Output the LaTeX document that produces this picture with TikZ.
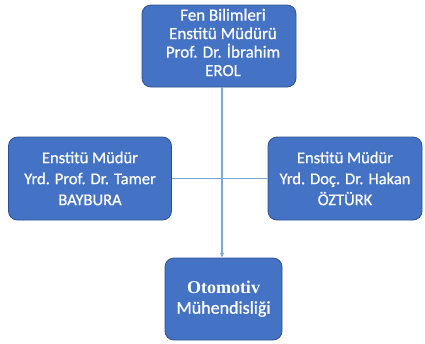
\documentclass[tikz,border=0pt]{standalone}
\usepackage{fontspec}
\setmainfont{Carlito}[FakeBold=0.7]
\newfontfamily\serifbold{Liberation Serif Bold}
\usetikzlibrary{arrows.meta}
\definecolor{boxfill}{HTML}{4472C4}
\definecolor{boxedge}{HTML}{2F528F}
\definecolor{linkcol}{HTML}{7FA7DA}
\tikzset{
  orgbox/.style={draw=boxedge, line width=0.8pt, fill=boxfill, rounded corners=9pt, text=white, align=center, inner sep=0pt},
  topfont/.style={font=\fontsize{17}{18.5}\selectfont},
  sidefont/.style={font=\fontsize{16.5}{21}\selectfont},
  botfont/.style={font=\fontsize{18}{20}\selectfont},
  link/.style={draw=linkcol, line width=1.2pt}
}
\begin{document}
\begin{tikzpicture}[x=1pt,y=-1pt]
\useasboundingbox (0,0) rectangle (425,343);
\node[orgbox, minimum width=154pt, minimum height=82pt] (top) at (219,46) {};
\node[topfont, align=center, text=white] (toptext) at (223,42.5) {Fen Bilimleri\\Enstitü Müdürü\\Prof. Dr. İbrahim\\EROL};
\node[orgbox, sidefont, minimum width=163pt, minimum height=83pt] (left) at (90,178.5) {Enstitü Müdür\\Yrd. Prof. Dr. Tamer\\BAYBURA};
\node[orgbox, sidefont, minimum width=154pt, minimum height=83pt] (right) at (345,178.5) {Enstitü Müdür\\Yrd. Doç. Dr. Hakan\\ÖZTÜRK};
\node[orgbox, botfont, minimum width=117pt, minimum height=82pt] (bot) at (223.5,299) {{\serifbold Otomotiv}\\Mühendisliği};
\coordinate (hub) at (222,179);
\draw[link] (left.east) -- (right.west);
\draw[link, -{Stealth[length=5pt,width=4pt]}] (top.south -| hub) -- (bot.north -| hub);
\end{tikzpicture}
\end{document}
